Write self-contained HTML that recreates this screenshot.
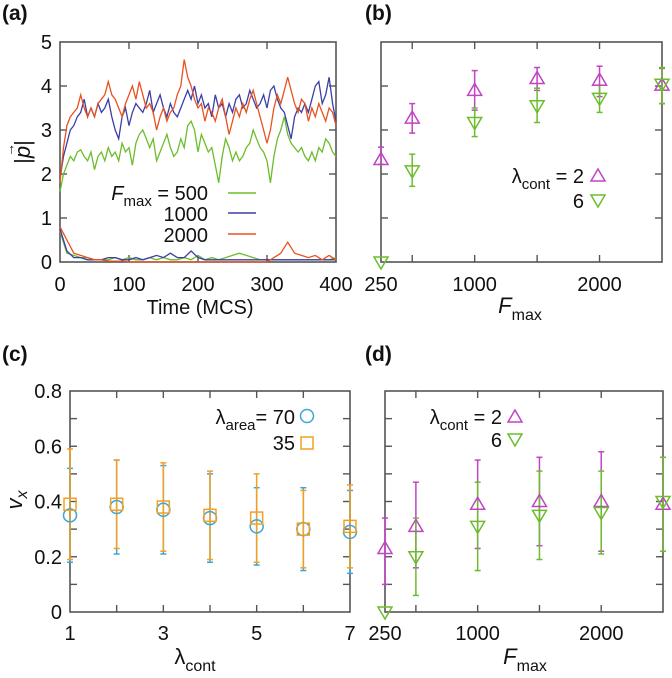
<!DOCTYPE html>
<html><head><meta charset="utf-8">
<style>
body{margin:0;background:#fff;}
svg{display:block;font-family:"Liberation Sans",sans-serif;}
</style></head>
<body>
<svg id="fig" width="672" height="678" viewBox="0 0 672 678" xmlns="http://www.w3.org/2000/svg"></svg>
<script>
// ---- Panel (a) data ----
const tHigh = []; for (let i = 0; i <= 80; i++) tHigh.push(i * 5);
const tLow = []; for (let i = 0; i <= 40; i++) tLow.push(i * 10);
const greenHigh = [1.6,2.0,2.2,2.4,2.3,2.5,2.55,2.4,2.3,2.5,2.1,2.4,2.5,2.3,2.6,2.4,2.5,2.3,2.7,2.5,2.6,2.2,2.7,2.9,3.0,2.8,2.6,2.8,2.3,2.5,2.7,2.9,2.6,2.4,2.5,2.8,2.6,3.1,3.2,3.0,2.5,2.9,2.7,2.5,2.6,2.2,1.8,2.4,2.8,2.6,2.3,2.5,2.3,2.4,2.6,2.7,3.0,2.8,2.6,2.5,2.3,1.8,2.4,2.8,3.0,3.3,2.9,2.7,2.6,2.5,2.6,2.4,2.3,2.5,2.3,2.6,2.5,2.8,2.7,2.5,2.4];
const blueHigh = [1.9,2.4,2.7,3.0,3.1,3.3,3.4,3.7,3.3,3.5,3.3,3.6,3.4,3.5,3.7,3.3,3.0,2.8,3.3,3.5,3.1,3.4,3.6,3.5,3.4,3.6,3.9,3.4,3.6,3.8,3.5,3.3,3.6,3.4,3.3,3.5,3.7,3.9,3.7,4.0,3.6,3.8,3.5,3.6,3.3,3.8,3.5,3.6,3.3,3.6,3.4,3.7,3.8,3.5,3.6,3.9,3.7,3.5,3.6,3.8,3.5,3.9,4.0,3.7,3.5,3.4,3.1,2.8,3.3,3.5,3.4,3.6,3.4,3.7,4.0,4.1,3.6,3.8,4.2,3.6,3.2];
const orangeHigh = [1.8,2.6,3.1,3.3,3.4,3.5,3.8,3.5,3.3,3.5,3.3,3.6,3.7,3.8,4.1,3.8,3.7,3.5,3.3,3.6,3.8,4.0,3.7,4.1,3.8,3.5,3.6,3.4,3.0,3.3,3.5,3.2,3.4,3.5,3.8,4.0,4.6,4.2,4.0,3.7,3.5,3.6,3.2,3.5,3.4,3.2,3.5,3.7,3.3,2.9,3.2,3.5,3.3,3.6,3.4,3.7,3.9,3.6,3.3,3.0,2.7,3.0,3.5,3.8,3.6,3.9,4.2,3.9,3.6,3.4,3.7,3.6,3.2,3.5,3.3,3.6,3.4,3.2,3.5,3.4,3.1];
const greenLow = [0.7,0.2,0.15,0.1,0.1,0.05,0.05,0.05,0.1,0.05,0.1,0.05,0.05,0.1,0.05,0.1,0.05,0.05,0.1,0.05,0.15,0.05,0.1,0.05,0.1,0.15,0.2,0.15,0.1,0.05,0.05,0.05,0.05,0.05,0.05,0.05,0.05,0.05,0.05,0.05,0.1];
const blueLow = [0.75,0.25,0.1,0.1,0.05,0.05,0.05,0.1,0.1,0.05,0.05,0.1,0.05,0.1,0.15,0.1,0.2,0.1,0.1,0.25,0.1,0.05,0.05,0.05,0.05,0.05,0.05,0.05,0.05,0.05,0.05,0.05,0.05,0.05,0.05,0.05,0.05,0.05,0.05,0.05,0.05];
const orangeLow = [0.8,0.5,0.2,0.15,0.1,0.05,0.05,0.02,0.02,0.02,0,0,0,0,0,0,0,0,0,0,0,0,0,0,0,0,0,0,0,0,0,0.1,0.2,0.45,0.2,0.15,0.1,0.15,0.05,0.15,0.05];
// ---- Panel (b) data ----
const fmaxCats = [250,500,1000,1500,2000,2500];
const bL2 = [2.33,3.27,3.9,4.17,4.13,4.02];
const bL2Hi = [2.61,3.6,4.35,4.42,4.45,4.4];
const bL2Lo = [2.22,2.93,3.45,3.9,3.76,3.6];
const bL6 = [0,2.07,3.17,3.55,3.72,4.04];
const bL6Hi = [0,2.45,3.5,3.95,4.02,4.42];
const bL6Lo = [0,1.72,2.85,3.17,3.4,3.6];
// ---- Panel (c) data ----
const lamCats = [1,2,3,4,5,6,7];
const c70 = [0.35,0.38,0.37,0.34,0.31,0.30,0.29];
const c70Hi = [0.52,0.55,0.53,0.50,0.45,0.45,0.44];
const c70Lo = [0.18,0.21,0.21,0.18,0.17,0.15,0.14];
const c35 = [0.39,0.39,0.38,0.35,0.34,0.30,0.31];
const c35Hi = [0.59,0.55,0.54,0.51,0.50,0.44,0.46];
const c35Lo = [0.19,0.23,0.22,0.19,0.18,0.16,0.16];
// ---- Panel (d) data ----
const dL2 = [0.23,0.31,0.39,0.40,0.40,0.39];
const dL2Hi = [0.34,0.47,0.55,0.56,0.58,0.56];
const dL2Lo = [0.10,0.16,0.23,0.24,0.22,0.22];
const dL6 = [0,0.20,0.31,0.35,0.36,0.40];
const dL6Hi = [0,0.34,0.47,0.51,0.51,0.56];
const dL6Lo = [0,0.06,0.15,0.19,0.21,0.22];

const NS = "http://www.w3.org/2000/svg";
const svg = document.getElementById('fig');
function el(tag, attrs, parent) {
  const e = document.createElementNS(NS, tag);
  for (const k in attrs) e.setAttribute(k, attrs[k]);
  (parent || svg).appendChild(e);
  return e;
}
function txt(x, y, s, anchor, size, parent, extra) {
  const t = el('text', Object.assign({x: x, y: y, 'font-size': size || 20, 'text-anchor': anchor || 'middle', fill: '#111'}, extra || {}), parent);
  t.innerHTML = s;
  return t;
}
const AX = '#555';
function frame(name, x0, x1, y0, y1) {
  const g = el('g', {});
  
  
  el('rect', {x: x0, y: y0, width: x1 - x0, height: y1 - y0, fill: 'none', stroke: AX, 'stroke-width': 1.6}, g);
  return g;
}
function xtick(g, x, y0, y1) {
  el('line', {x1: x, x2: x, y1: y1, y2: y1 - 7, stroke: AX, 'stroke-width': 1.4}, g);
  el('line', {x1: x, x2: x, y1: y0, y2: y0 + 7, stroke: AX, 'stroke-width': 1.4}, g);
}
function ytick(g, y, x0, x1) {
  el('line', {x1: x0, x2: x0 + 7, y1: y, y2: y, stroke: AX, 'stroke-width': 1.4}, g);
  el('line', {x1: x1, x2: x1 - 7, y1: y, y2: y, stroke: AX, 'stroke-width': 1.4}, g);
}
function triUp(g, x, y, c) {
  el('path', {d: `M${x-7},${y+5} L${x+7},${y+5} L${x},${y-7} Z`, fill: 'none', stroke: c, 'stroke-width': 1.5}, g);
}
function triDown(g, x, y, c) {
  el('path', {d: `M${x-7},${y-5} L${x+7},${y-5} L${x},${y+7} Z`, fill: 'none', stroke: c, 'stroke-width': 1.5}, g);
}
function errbar(g, x, yh, yl, c) {
  el('line', {x1: x, x2: x, y1: yh, y2: yl, stroke: c, 'stroke-width': 1.5}, g);
  el('line', {x1: x - 3, x2: x + 3, y1: yh, y2: yh, stroke: c, 'stroke-width': 1.5}, g);
  el('line', {x1: x - 3, x2: x + 3, y1: yl, y2: yl, stroke: c, 'stroke-width': 1.5}, g);
}
const GREEN = '#6cbd2c', BLUE = '#3b3fa6', ORANGE = '#e8521f', MAG = '#c044c4', CYAN = '#3ca6d6', SQ = '#f2a024';

// ===== Panel (a) =====
(function(){
  const X0 = 60, X1 = 336, Y0 = 42, Y1 = 262;
  const sx = t => X0 + t / 400 * (X1 - X0);
  const sy = v => Y1 - v / 5 * (Y1 - Y0);
  const lab = txt(2, 20, '(a)', 'start', 21, null, {'font-weight': 'bold'});
  
  
  const g = frame('panel-a-plot', X0, X1, Y0, Y1);
  for (let t = 100; t < 400; t += 100) xtick(g, sx(t), Y0, Y1);
  for (let v = 1; v < 5; v++) ytick(g, sy(v), X0, X1);
  for (let t = 0; t <= 400; t += 100) txt(sx(t), 291, String(t), 'middle', 20, g);
  for (let v = 0; v <= 5; v++) txt(52, sy(v) + 7, String(v), 'end', 20, g);
  const xt = txt(200, 314, 'Time (MCS)', 'middle', 20, g);
  
  
  const yt = txt(0, 0, '|<tspan font-style="italic">p</tspan>|', 'middle', 22, g, {transform: 'translate(30,152) rotate(-90)'});
  
  
  txt(0, 0, '→', 'middle', 14, g, {transform: 'translate(14,150) rotate(-90)'});
  const series = [[tHigh, greenHigh, GREEN, 'line-500-high'], [tHigh, blueHigh, BLUE, 'line-1000-high'], [tHigh, orangeHigh, ORANGE, 'line-2000-high'],
                  [tLow, greenLow, GREEN, 'line-500-low'], [tLow, blueLow, BLUE, 'line-1000-low'], [tLow, orangeLow, ORANGE, 'line-2000-low']];
  series.forEach(s => {
    const d = s[0].map((t, i) => (i ? 'L' : 'M') + sx(t).toFixed(1) + ',' + sy(s[1][i]).toFixed(1)).join(' ');
    const p = el('path', {d: d, fill: 'none', stroke: s[2], 'stroke-width': 1.3}, g);
    
    
  });
  const lg = el('g', {});
  
  
  txt(208, 200, '<tspan font-style="italic">F</tspan><tspan font-size="15" dy="6">max</tspan><tspan dy="-6"> = 500</tspan>', 'end', 20, lg);
  txt(208, 221, '1000', 'end', 20, lg);
  txt(208, 242, '2000', 'end', 20, lg);
  [[193, GREEN], [213, BLUE], [234, ORANGE]].forEach(r => el('line', {x1: 228, x2: 256, y1: r[0], y2: r[0], stroke: r[1], 'stroke-width': 1.5}, lg));
})();

// ===== Panel (b) =====
(function(){
  const X0 = 381, X1 = 662, Y0 = 42, Y1 = 262;
  const sx = f => X0 + (f - 250) / 2250 * (X1 - X0);
  const sy = v => Y1 - v / 5 * (Y1 - Y0);
  const lab = txt(365, 20, '(b)', 'start', 21, null, {'font-weight': 'bold'});
  
  
  const g = frame('panel-b-plot', X0, X1, Y0, Y1);
  [500, 1000, 1500, 2000].forEach(f => xtick(g, sx(f), Y0, Y1));
  for (let v = 1; v < 5; v++) ytick(g, sy(v), X0, X1);
  [250, 1000, 2000].forEach(f => txt(sx(f), 291, String(f), 'middle', 20, g));
  const xt = txt(520, 313, '<tspan font-style="italic" font-size="22">F</tspan><tspan font-size="16" dy="7">max</tspan>', 'middle', 20, g);
  
  
  fmaxCats.forEach((f, i) => {
    const x = sx(f);
    if (bL2Hi[i] !== bL2Lo[i]) errbar(g, x, sy(bL2Hi[i]), sy(bL2Lo[i]), MAG);
    if (bL6Hi[i] !== bL6Lo[i]) errbar(g, x, sy(bL6Hi[i]), sy(bL6Lo[i]), GREEN);
  });
  fmaxCats.forEach((f, i) => {
    triUp(g, sx(f), sy(bL2[i]), MAG);
    triDown(g, sx(f), sy(bL6[i]), GREEN);
  });
  const lg = el('g', {});
  
  
  txt(584, 183, 'λ<tspan font-size="15" dy="6">cont</tspan><tspan dy="-6"> = 2</tspan>', 'end', 20, lg);
  txt(584, 208, '6', 'end', 20, lg);
  triUp(lg, 598, 176, MAG);
  triDown(lg, 598, 200, GREEN);
})();

// ===== Panel (c) =====
(function(){
  const X0 = 70, X1 = 350, Y0 = 391, Y1 = 612;
  const sx = l => X0 + (l - 1) / 6 * (X1 - X0);
  const sy = v => Y1 - v / 0.8 * (Y1 - Y0);
  const lab = txt(2, 361, '(c)', 'start', 21, null, {'font-weight': 'bold'});
  
  
  const g = frame('panel-c-plot', X0, X1, Y0, Y1);
  for (let l = 2; l < 7; l++) xtick(g, sx(l), Y0, Y1);
  for (let k = 1; k < 8; k++) ytick(g, sy(k / 10), X0, X1);
  [1, 3, 5, 7].forEach(l => txt(sx(l), 640, String(l), 'middle', 20, g));
  ['0', '0.2', '0.4', '0.6', '0.8'].forEach((s, i) => txt(62, sy(i * 0.2) + 7, s, 'end', 20, g));
  const xt = txt(195, 664, 'λ<tspan font-size="16" dy="7">cont</tspan>', 'middle', 22, g);
  
  
  const yt = txt(0, 0, 'v<tspan font-size="16" dy="5">x</tspan>', 'middle', 22, g, {transform: 'translate(22,500) rotate(-90)', 'font-style': 'italic'});
  
  
  lamCats.forEach((l, i) => errbar(g, sx(l), sy(c70Hi[i]), sy(c70Lo[i]), CYAN));
  lamCats.forEach((l, i) => errbar(g, sx(l), sy(c35Hi[i]), sy(c35Lo[i]), SQ));
  lamCats.forEach((l, i) => {
    el('circle', {cx: sx(l), cy: sy(c70[i]), r: 6.5, fill: 'none', stroke: CYAN, 'stroke-width': 1.5}, g);
    el('rect', {x: sx(l) - 6, y: sy(c35[i]) - 6, width: 12, height: 12, fill: 'none', stroke: SQ, 'stroke-width': 1.5}, g);
  });
  const lg = el('g', {});
  
  
  txt(295, 424, 'λ<tspan font-size="15" dy="6">area</tspan><tspan dy="-6">= 70</tspan>', 'end', 20, lg);
  txt(295, 450, '35', 'end', 20, lg);
  el('circle', {cx: 307, cy: 416, r: 6.5, fill: 'none', stroke: CYAN, 'stroke-width': 1.5}, lg);
  el('rect', {x: 301, y: 437, width: 12, height: 12, fill: 'none', stroke: SQ, 'stroke-width': 1.5}, lg);
})();

// ===== Panel (d) =====
(function(){
  const X0 = 385, X1 = 663, Y0 = 391, Y1 = 612;
  const sx = f => X0 + (f - 250) / 2250 * (X1 - X0);
  const sy = v => Y1 - v / 0.8 * (Y1 - Y0);
  const lab = txt(365, 361, '(d)', 'start', 21, null, {'font-weight': 'bold'});
  
  
  const g = frame('panel-d-plot', X0, X1, Y0, Y1);
  [500, 1000, 1500, 2000].forEach(f => xtick(g, sx(f), Y0, Y1));
  for (let k = 1; k < 8; k++) ytick(g, sy(k / 10), X0, X1);
  [250, 1000, 2000].forEach(f => txt(sx(f), 640, String(f), 'middle', 20, g));
  const xt = txt(525, 664, '<tspan font-style="italic" font-size="22">F</tspan><tspan font-size="16" dy="7">max</tspan>', 'middle', 20, g);
  
  
  fmaxCats.forEach((f, i) => {
    if (dL2Hi[i] !== dL2Lo[i]) errbar(g, sx(f), sy(dL2Hi[i]), sy(dL2Lo[i]), MAG);
    if (dL6Hi[i] !== dL6Lo[i]) errbar(g, sx(f), sy(dL6Hi[i]), sy(dL6Lo[i]), GREEN);
  });
  fmaxCats.forEach((f, i) => {
    triUp(g, sx(f), sy(dL2[i]), MAG);
    triDown(g, sx(f), sy(dL6[i]), GREEN);
  });
  const lg = el('g', {});
  
  
  txt(502, 424, 'λ<tspan font-size="15" dy="6">cont</tspan><tspan dy="-6"> = 2</tspan>', 'end', 20, lg);
  txt(502, 447, '6', 'end', 20, lg);
  triUp(lg, 515, 417, MAG);
  triDown(lg, 515, 439, GREEN);
})();
</script>
</body></html>
